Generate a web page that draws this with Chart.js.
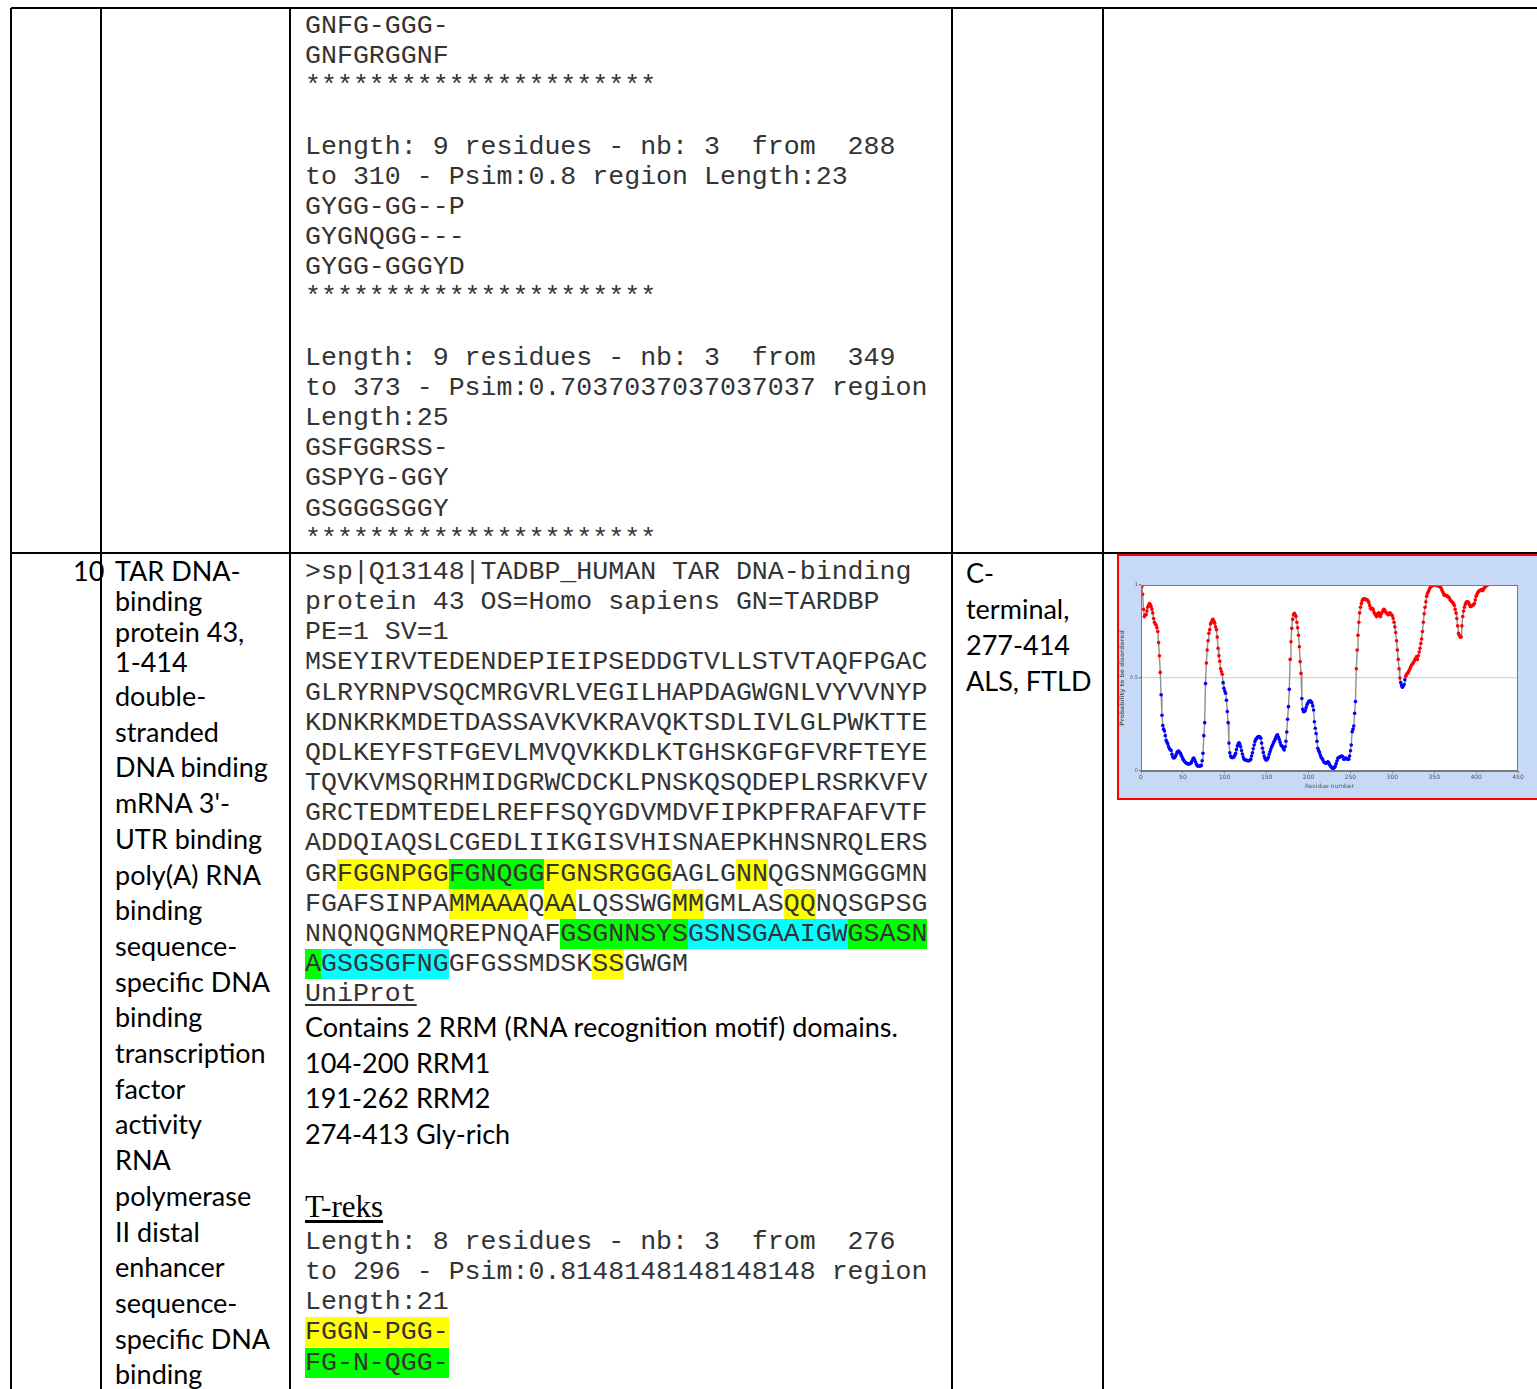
<!DOCTYPE html>
<html>
<head>
<meta charset="utf-8">
<script src="https://cdn.jsdelivr.net/npm/chart.js@4/dist/chart.umd.min.js"></script>
<style>
  html, body { margin: 0; padding: 0; background: #fff; overflow: hidden; }
  body { width: 1537px; height: 1389px; position: relative; }
  .vl { position: absolute; width: 2px; background: #000; top: 8px; height: 1381px; }
  .hl { position: absolute; height: 2px; background: #000; left: 11px; width: 1526px; }
  .mono { position: absolute; font-family: "Liberation Mono", monospace; font-size: 26.6px;
          line-height: 30.15px; white-space: pre; color: #333; }
  .sans { position: absolute; font-family: "Lato", sans-serif; font-size: 27px; white-space: pre; color: #000; }
  .serif { position: absolute; font-family: "Liberation Serif", serif; font-size: 31px; white-space: pre; }
  .y { background: #ffff00; }
  .g { background: #00ff00; }
  .c { background: #00ffff; }
  .u { text-decoration: underline; text-underline-offset: 3px; }
  #plotBox { position: absolute; left: 1117px; top: 554px; width: 430px; height: 246px;
             box-sizing: border-box; border: 2px solid #ff0000; background: #c6daf8; }
</style>
</head>
<body>

<!-- table rules -->
<div class="hl" style="top:7px"></div>
<div class="hl" style="top:552px"></div>
<div class="vl" style="left:10px"></div>
<div class="vl" style="left:100px"></div>
<div class="vl" style="left:289px"></div>
<div class="vl" style="left:951px"></div>
<div class="vl" style="left:1102px"></div>

<!-- upper row, alignment column -->
<div class="mono" style="left:305px; top:11px;">GNFG-GGG-
GNFGRGGNF
**********************

Length: 9 residues - nb: 3  from  288
to 310 - Psim:0.8 region Length:23
GYGG-GG--P
GYGNQGG---
GYGG-GGGYD
**********************

Length: 9 residues - nb: 3  from  349
to 373 - Psim:0.7037037037037037 region
Length:25
GSFGGRSS-
GSPYG-GGY
GSGGGSGGY
**********************</div>

<!-- row 10 -->
<div class="sans" style="left:73px; top:556px; line-height:30.4px;">10</div>
<div class="sans" style="left:115px; top:556px; line-height:30.4px;">TAR DNA-
binding
protein 43,
1-414</div>
<div class="sans" style="left:115px; top:678px; line-height:35.7px;">double-
stranded
DNA binding
mRNA 3'-
UTR binding
poly(A) RNA
binding
sequence-
specific DNA
binding
transcription
factor
activity
RNA
polymerase
II distal
enhancer
sequence-
specific DNA
binding</div>

<div class="mono" style="left:305px; top:557px;">&gt;sp|Q13148|TADBP_HUMAN TAR DNA-binding
protein 43 OS=Homo sapiens GN=TARDBP
PE=1 SV=1
MSEYIRVTEDENDEPIEIPSEDDGTVLLSTVTAQFPGAC
GLRYRNPVSQCMRGVRLVEGILHAPDAGWGNLVYVVNYP
KDNKRKMDETDASSAVKVKRAVQKTSDLIVLGLPWKTTE
QDLKEYFSTFGEVLMVQVKKDLKTGHSKGFGFVRFTEYE
TQVKVMSQRHMIDGRWCDCKLPNSKQSQDEPLRSRKVFV
GRCTEDMTEDELREFFSQYGDVMDVFIPKPFRAFAFVTF
ADDQIAQSLCGEDLIIKGISVHISNAEPKHNSNRQLERS
GR<span class="y">FGGNPGG</span><span class="g">FGNQGG</span><span class="y">FGNSRGGG</span>AGLG<span class="y">NN</span>QGSNMGGGMN
FGAFSINPA<span class="y">MMAAA</span>Q<span class="y">AA</span>LQSSWG<span class="y">MM</span>GMLAS<span class="y">QQ</span>NQSGPSG
NNQNQGNMQREPNQAF<span class="g">GSGNNSYS</span><span class="c">GSNSGAAIGW</span><span class="g">GSASN</span>
<span class="g">A</span><span class="c">GSGSGFNG</span>GFGSSMDSK<span class="y">SS</span>GWGM
<span class="u">UniProt</span></div>

<div class="sans" style="left:305px; top:1009px; line-height:35.6px;">Contains 2 RRM (RNA recognition motif) domains.
104-200 RRM1
191-262 RRM2
274-413 Gly-rich</div>

<div class="serif u" style="left:305px; top:1189px; line-height:36px;">T-reks</div>

<div class="mono" style="left:305px; top:1227px;">Length: 8 residues - nb: 3  from  276
to 296 - Psim:0.8148148148148148 region
Length:21
<span class="y">FGGN-PGG-</span>
<span class="g">FG-N-QGG-</span></div>

<div class="sans" style="left:966px; top:555px; line-height:36px;">C-
terminal,
277-414
ALS, FTLD</div>

<!-- disorder prediction plot -->
<div id="plotBox"><canvas id="disorder"></canvas></div>

<script>
// TARDBP per-residue disorder probability, residues 1..414
const firstResidue = 1;
const disorder = [
  0.99, 0.95, 0.87, 0.83, 0.84, 0.84, 0.86, 0.88, 0.89, 0.90,
  0.895, 0.885, 0.87, 0.85, 0.82, 0.80, 0.79, 0.785, 0.77, 0.75,
  0.69, 0.62, 0.53, 0.41, 0.30, 0.245, 0.225, 0.215, 0.19, 0.165,
  0.155, 0.145, 0.13, 0.12, 0.115, 0.11, 0.09, 0.075, 0.07, 0.072,
  0.078, 0.088, 0.10, 0.105, 0.107, 0.10, 0.095, 0.085, 0.075, 0.065,
  0.058, 0.052, 0.046, 0.043, 0.04, 0.038, 0.038, 0.039, 0.041, 0.045,
  0.055, 0.065, 0.07, 0.06, 0.05, 0.038, 0.028, 0.027, 0.027, 0.027,
  0.027, 0.03, 0.055, 0.095, 0.19, 0.26, 0.47, 0.58, 0.65, 0.70,
  0.74, 0.76, 0.79, 0.80, 0.812, 0.815, 0.805, 0.795, 0.775, 0.76,
  0.72, 0.66, 0.62, 0.59, 0.55, 0.535, 0.52, 0.475, 0.445, 0.43,
  0.418, 0.38, 0.32, 0.26, 0.15, 0.098, 0.08, 0.073, 0.072, 0.073,
  0.075, 0.085, 0.095, 0.115, 0.134, 0.145, 0.152, 0.145, 0.13, 0.11,
  0.091, 0.075, 0.063, 0.06, 0.059, 0.058, 0.056, 0.055, 0.056, 0.058,
  0.063, 0.08, 0.098, 0.12, 0.14, 0.158, 0.17, 0.175, 0.181, 0.184,
  0.185, 0.182, 0.176, 0.15, 0.122, 0.10, 0.08, 0.068, 0.06, 0.059,
  0.065, 0.073, 0.09, 0.104, 0.118, 0.13, 0.14, 0.15, 0.16, 0.17,
  0.181, 0.19, 0.194, 0.182, 0.17, 0.155, 0.14, 0.135, 0.13, 0.12,
  0.113, 0.13, 0.16, 0.21, 0.278, 0.346, 0.439, 0.60, 0.695, 0.767,
  0.815, 0.84, 0.848, 0.84, 0.83, 0.80, 0.77, 0.73, 0.668, 0.588,
  0.525, 0.39, 0.332, 0.319, 0.32, 0.325, 0.34, 0.355, 0.364, 0.372,
  0.376, 0.378, 0.372, 0.367, 0.35, 0.328, 0.265, 0.23, 0.202, 0.16,
  0.122, 0.11, 0.10, 0.086, 0.073, 0.068, 0.06, 0.05, 0.046, 0.043,
  0.041, 0.045, 0.05, 0.045, 0.035, 0.027, 0.022, 0.018, 0.014, 0.015,
  0.02, 0.027, 0.04, 0.055, 0.068, 0.072, 0.075, 0.077, 0.079, 0.08,
  0.075, 0.063, 0.065, 0.07, 0.068, 0.065, 0.064, 0.063, 0.08, 0.109,
  0.14, 0.211, 0.225, 0.242, 0.31, 0.373, 0.55, 0.65, 0.73, 0.80,
  0.85, 0.88, 0.90, 0.915, 0.925, 0.925, 0.925, 0.925, 0.92, 0.92,
  0.915, 0.905, 0.89, 0.875, 0.87, 0.875, 0.87, 0.855, 0.845, 0.84,
  0.83, 0.845, 0.835, 0.85, 0.84, 0.83, 0.845, 0.855, 0.865, 0.87,
  0.865, 0.855, 0.85, 0.845, 0.84, 0.845, 0.85, 0.845, 0.84, 0.835,
  0.82, 0.80, 0.775, 0.745, 0.70, 0.65, 0.60, 0.55, 0.50, 0.475,
  0.46, 0.45, 0.458, 0.465, 0.49, 0.51, 0.52, 0.525, 0.53, 0.54,
  0.55, 0.56, 0.57, 0.575, 0.58, 0.59, 0.60, 0.605, 0.615, 0.60,
  0.62, 0.64, 0.66, 0.685, 0.71, 0.75, 0.80, 0.845, 0.88, 0.91,
  0.94, 0.955, 0.965, 0.975, 0.985, 0.99, 0.995, 0.998, 1.0, 1.0,
  1.0, 0.998, 0.997, 0.996, 0.995, 0.993, 0.99, 0.985, 0.975, 0.965,
  0.955, 0.945, 0.945, 0.945, 0.94, 0.94, 0.935, 0.93, 0.92, 0.915,
  0.91, 0.905, 0.90, 0.89, 0.87, 0.85, 0.82, 0.78, 0.74, 0.73,
  0.72, 0.72, 0.78, 0.83, 0.86, 0.88, 0.895, 0.905, 0.91, 0.91,
  0.905, 0.895, 0.885, 0.885, 0.89, 0.89, 0.895, 0.90, 0.92, 0.94,
  0.95, 0.96, 0.965, 0.97, 0.97, 0.975, 0.975, 0.97, 0.98, 0.985,
  0.99, 0.995, 1.0, 1.0
];
const threshold = 0.5;
const xTicks = [0, 50, 100, 150, 200, 250, 300, 350, 400, 450];
const yTicks = [0, 0.5, 1];
const orderedColor = '#0000ff';
const disorderedColor = '#ff0000';

const points = disorder.map((v, i) => ({ x: firstResidue + i, y: v }));
const pointColors = disorder.map(v => (v >= threshold ? disorderedColor : orderedColor));

const plotFrame = {
  id: 'plotFrame',
  beforeDraw(chart) {
    const { ctx, chartArea: a } = chart;
    ctx.save();
    ctx.fillStyle = '#ffffff';
    ctx.fillRect(a.left, a.top, a.right - a.left, a.bottom - a.top);
    ctx.restore();
  },
  afterDraw(chart) {
    const { ctx, chartArea: a } = chart;
    ctx.save();
    ctx.strokeStyle = '#7a7a7a';
    ctx.lineWidth = 1;
    ctx.strokeRect(a.left + 0.5, a.top + 0.5, a.right - a.left - 1, a.bottom - a.top - 1);
    ctx.restore();
  }
};

new Chart(document.getElementById('disorder'), {
  type: 'line',
  data: {
    datasets: [{
      data: points,
      borderColor: '#8f8f8f',
      borderWidth: 1.4,
      pointRadius: 1.8,
      pointBorderWidth: 0,
      pointBackgroundColor: pointColors,
      pointBorderColor: pointColors,
      tension: 0
    }]
  },
  options: {
    responsive: true,
    maintainAspectRatio: false,
    animation: false,
    layout: { padding: { top: 29, right: 27, left: 0, bottom: 8 } },
    plugins: { legend: { display: false }, tooltip: { enabled: false } },
    scales: {
      x: {
        type: 'linear', min: 0, max: 450,
        afterBuildTicks: s => { s.ticks = xTicks.map(v => ({ value: v })); },
        ticks: { font: { size: 6, family: 'DejaVu Sans' }, color: '#555', padding: 1, maxRotation: 0 },
        grid: { drawOnChartArea: false, drawTicks: true, tickLength: 2, tickColor: '#7a7a7a' },
        border: { color: '#7a7a7a' },
        title: { display: true, text: 'Residue number', font: { size: 6, family: 'DejaVu Sans' }, color: '#555', padding: 0 },
        afterFit: s => { s.height = 19; }
      },
      y: {
        min: 0, max: 1,
        afterBuildTicks: s => { s.ticks = yTicks.map(v => ({ value: v })); },
        ticks: { font: { size: 5, family: 'DejaVu Sans' }, color: '#555', padding: 1,
                 callback: v => String(v) },
        grid: { color: c => (c.tick && c.tick.value === threshold ? '#d4d4d4' : 'rgba(0,0,0,0)'),
                lineWidth: 1.2, drawTicks: true, tickLength: 2, tickColor: '#7a7a7a' },
        border: { color: '#7a7a7a' },
        title: { display: true, text: 'Probability to be disordered', font: { size: 6, family: 'DejaVu Sans', weight: 'bold' }, color: '#666', padding: 0 },
        afterFit: s => { s.width = 22; }
      }
    }
  },
  plugins: [plotFrame]
});
</script>
</body>
</html>
